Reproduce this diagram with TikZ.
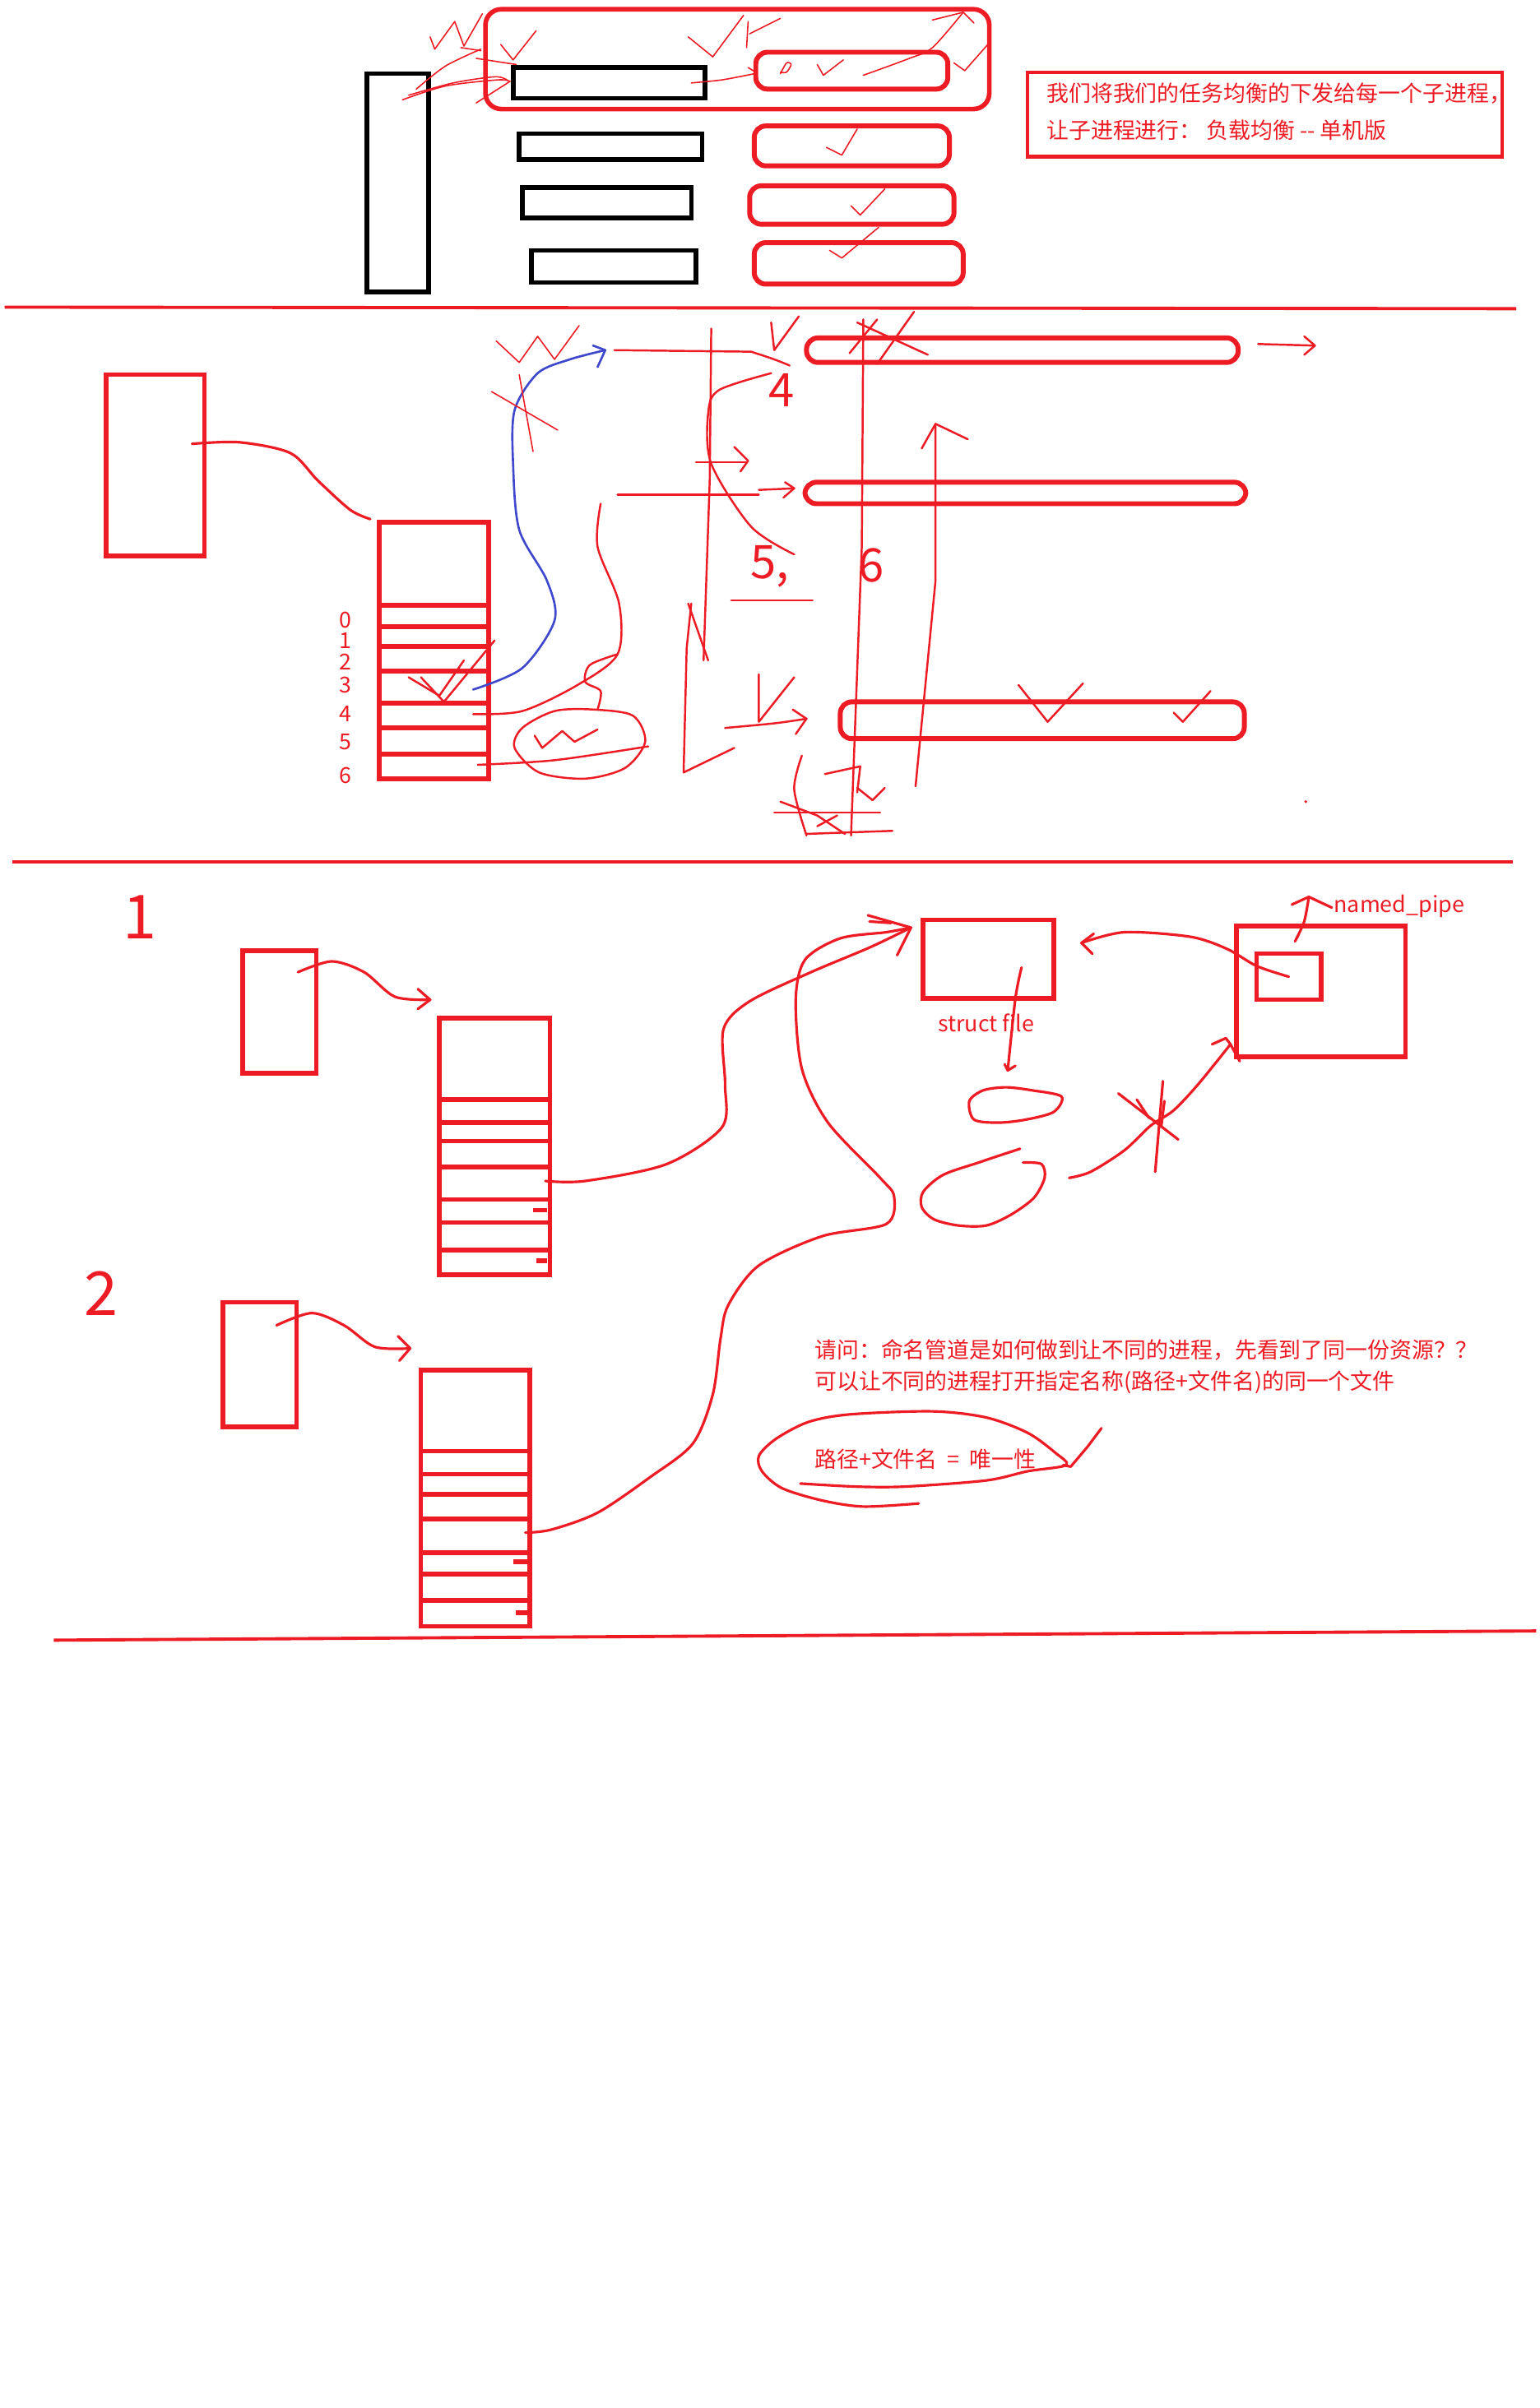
\documentclass[tikz,border=0pt]{standalone}
\usepackage{fontspec}
\usepackage{tikz}
\usetikzlibrary{fit, positioning, calc}
\newfontfamily\cjk{Noto Sans CJK SC}
\definecolor{penred}{HTML}{ED1C24}
\definecolor{penblue}{HTML}{3F48CC}
\tikzset{
	redbox/.style={draw=penred, line width=1.6pt, inner sep=0pt},
	blackbox/.style={draw=black, line width=1.6pt, inner sep=0pt},
	pill/.style={draw=penred, line width=1.7pt, inner sep=0pt, rounded corners=4pt},
	notebox/.style={draw=penred, line width=1.2pt, inner sep=0pt},
	note_text/.style={font=\cjk\fontsize{7.65}{9}\selectfont, text=penred, anchor=west, inner sep=0pt},
	digit/.style={font=\cjk\fontsize{7.6}{8}\selectfont, text=penred, inner sep=0pt},
	hand_digit/.style={font=\cjk\fontsize{16}{16}\selectfont, text=penred, inner sep=0pt},
	ink/.style={draw=penred, line width=0.9pt, line cap=round, line join=round},
	line_ink/.style={draw=penred, line width=0.7pt, line cap=round, line join=round},
	thin_ink/.style={draw=penred, line width=0.45pt, line cap=round, line join=round},
	blue_ink/.style={draw=penblue, line width=0.75pt, line cap=round, line join=round},
	sep_line/.style={draw=penred, line width=1.1pt}
}

\begin{document}
\begin{tikzpicture}[x=0.018683cm, y=-0.018683cm]
	\fill[white] (0,0) rectangle (1002,1568);
	\useasboundingbox (0,0) rectangle (1002,1568);

	% ---------- part 1: tasks handed out to children
	\node[blackbox, fit={(239,48) (279,190)}] (parent) {};
	\node[blackbox, fit={(334,44) (459,64)}] (task1) {};
	\node[blackbox, fit={(338,87) (457,104)}] (task2) {};
	\node[blackbox, fit={(340,122) (450,142)}] (task3) {};
	\node[blackbox, fit={(346,163) (453,184)}] (task4) {};
	\node[redbox, rounded corners=5.5pt, fit={(316,6) (644,71)}] (group1) {};
	\node[pill, fit={(492,34) (617,58)}] (child1) {};
	\node[pill, fit={(491,82) (618,108)}] (child2) {};
	\node[pill, fit={(488,121) (621,146)}] (child3) {};
	\node[pill, fit={(491,158) (627,185)}] (child4) {};

	\node[notebox, fit={(669,47) (978,102)}] (note) {};
	\node[note_text] (note1) at (681,61) {我们将我们的任务均衡的下发给每一个子进程，};
	\node[note_text] (note2) at (681,85) {让子进程进行： 负载均衡 -{}- 单机版};

	% scribbles
	\draw[thin_ink] (280,24) -- (283,32) -- (296,14) -- (302,30) -- (314,9);
	\draw[thin_ink] plot[smooth] coordinates {(262,65) (290,56) (324,52) (332,53)};
	\draw[thin_ink] plot[smooth] coordinates {(266,62) (295,54) (322,50) (330,52)};
	\draw[thin_ink] plot[smooth] coordinates {(271,58) (290,43) (313,32)};
	\draw[thin_ink] (300,31) -- (313,33);
	\draw[thin_ink] (310,38) -- (336,42);
	\draw[thin_ink] (326,29) -- (334,39) -- (349,20);
	\draw[thin_ink] (310,67) -- (332,53);
	\draw[thin_ink] (448,24) -- (464,37) -- (484,10);
	\draw[thin_ink] (487,14) -- (486,31);
	\draw[thin_ink] (488,22) -- (508,12);
	\coordinate (t1out) at (450,54);
	\draw[thin_ink] plot[smooth] coordinates {(t1out) (470,52) (491,48)};
	\draw[thin_ink] (487,44) -- (492,47) -- (491,52);
	\draw[thin_ink] plot[smooth] coordinates {(508,48) (512,41) (515,42) (512,47) (508,47)};
	\draw[thin_ink] (532,42) -- (536,49) -- (549,39);
	\draw[thin_ink] plot[smooth] coordinates {(562,49) (592,38) (607,31) (627,8)};
	\draw[thin_ink] (607,13) -- (627,8) -- (634,15);
	\draw[thin_ink] (621,41) -- (628,46) -- (643,29);
	\draw[thin_ink] (538,96) -- (548,101) -- (558,84);
	\draw[thin_ink] (554,134) -- (560,140) -- (576,123);
	\draw[thin_ink] (540,163) -- (548,168) -- (572,148);

	\draw[sep_line] (3,200) -- (987,201);

	% ---------- part 2: fd table and pipes
	\node[redbox, fit={(69,244) (133,362)}] (proc) {};
	\node[redbox, fit={(247,340) (318,507)}] (fdtab) {};
	\foreach \r in {394,408,421,437,458,474,491}
		\draw[redbox] (247,\r) -- (318,\r);
	\foreach \d/\yy in {0/404,1/417,2/431,3/446,4/465,5/483,6/505}
		\node[digit] (idx\d) at (225,\yy) {\d};

	\coordinate (procout) at (125,289);
	\coordinate (tabin) at (241,338);
	\draw[ink] plot[smooth] coordinates {(procout) (156,288) (189,295) (207,313) (228,332) (tabin)};

	\node[pill, fit={(525,220) (806,236)}] (worker1) {};
	\node[pill, fit={(524,314) (811,328)}] (worker2) {};
	\node[pill, fit={(547,457) (810,481)}] (worker3) {};

	% blue read end
	\coordinate (slot3) at (308,449);
	\coordinate (readend) at (394,228);
	\draw[blue_ink] plot[smooth] coordinates {(slot3) (340,435) (361,404) (356,378) (338,345) (334,302) (335,267) (350,243) (371,234) (readend)};
	\draw[blue_ink] (386,225) -- (readend) -- (389,239);
	\draw[thin_ink] (323,222) -- (338,236) -- (350,219) -- (361,234) -- (377,212);
	\draw[thin_ink] (320,255) -- (363,280);
	\draw[thin_ink] (338,244) -- (347,294);

	% lines towards the children
	\draw[line_ink] (400,228) -- (489,229);
	\draw[line_ink] plot[smooth] coordinates {(489,229) (504,234) (514,238)};
	\draw[line_ink] (463,214) -- (462,313) -- (458,430);
	\draw[line_ink] plot[smooth] coordinates {(502,243) (468,254) (461,269) (463,302) (489,343) (517,361)};
	\draw[line_ink] (453,301) -- (486,301);
	\draw[line_ink] (478,291) -- (487,300) -- (482,307);
	\draw[line_ink] (402,322) -- (494,322);
	\draw[line_ink] (494,319) -- (517,318);
	\draw[line_ink] (511,314) -- (517,318) -- (510,324);
	\draw[line_ink] (502,210) -- (504,228) -- (520,206);
	\draw[line_ink] (553,230) -- (571,208);
	\draw[line_ink] (558,210) -- (604,231);
	\draw[line_ink] (571,237) -- (595,203);
	\draw[line_ink] (819,224) -- (855,225);
	\draw[line_ink] (849,219) -- (856,225) -- (849,231);
	\node[hand_digit] (mark4) at (509,254) {4};
	\node[hand_digit] (mark5) at (501,369) {5,};
	\draw[line_ink] (476,391) -- (529,391);
	\node[hand_digit] (mark6) at (567,368) {6};

	\draw[line_ink] (562,208) -- (561,356) -- (554,544);
	\draw[line_ink] (596,512) -- (609,378) -- (609,276);
	\draw[line_ink] (600,292) -- (609,276) -- (630,286);

	\draw[line_ink] (450,393) -- (447,422) -- (445,503) -- (478,487);
	\draw[line_ink] (448,393) -- (461,430);

	% row 4 and row 6 to the write side
	\coordinate (slot4) at (308,465);
	\draw[line_ink] plot[smooth] coordinates {(slot4) (340,463) (376,446) (402,426) (403,393) (389,356) (391,328)};
	\coordinate (slot6) at (311,498);
	\draw[line_ink] plot[smooth] coordinates {(slot6) (361,495) (422,486)};
	\draw[line_ink] plot[smooth cycle] coordinates {(386,462) (412,466) (420,483) (407,500) (381,507) (351,503) (335,487) (340,474) (361,463)};
	\draw[line_ink] (348,479) -- (353,487) -- (366,476) -- (374,483) -- (389,475);
	\draw[line_ink] plot[smooth] coordinates {(402,426) (384,433) (381,444) (391,450) (389,462)};
	\draw[line_ink] (266,441) -- (286,453) -- (302,430);
	\draw[line_ink] (274,441) -- (289,457) -- (322,417);

	\draw[line_ink] (494,439) -- (494,470) -- (517,441);
	\draw[line_ink] plot[smooth] coordinates {(472,474) (504,471) (525,468)};
	\draw[line_ink] (516,462) -- (525,468) -- (518,478);
	\draw[line_ink] (663,446) -- (682,470) -- (705,445);
	\draw[line_ink] (764,464) -- (770,470) -- (788,450);

	\draw[line_ink] (537,504) -- (560,499) -- (558,516);
	\draw[line_ink] (558,513) -- (568,521) -- (576,513);
	\draw[line_ink] plot[smooth] coordinates {(522,492) (517,514) (525,544)};
	\draw[line_ink] (504,529) -- (573,529);
	\draw[line_ink] (508,522) -- (532,531) -- (550,543);
	\draw[line_ink] (532,538) -- (545,531);
	\draw[line_ink] (525,543) -- (581,541);
	\fill[penred] (850,522) circle (1);

	\draw[sep_line] (8,561) -- (985,561);

	% ---------- part 3: two processes open the same named pipe
	\node[hand_digit, font=\cjk\fontsize{21}{21}\selectfont] (num1) at (91,597) {1};
	\node[hand_digit, font=\cjk\fontsize{21}{21}\selectfont] (num2) at (66,842) {2};

	\node[redbox, fit={(158,619) (206,699)}] (procA) {};
	\node[redbox, fit={(286,663) (358,830)}] (tabA) {};
	\foreach \r in {716,731,743,760,781,796,814}
		\draw[redbox] (286,\r) -- (358,\r);
	\draw[redbox] (347,788) -- (356,788);
	\draw[redbox] (349,821) -- (356,821);

	\node[redbox, fit={(145,848) (193,929)}] (procB) {};
	\node[redbox, fit={(274,892) (345,1059)}] (tabB) {};
	\foreach \r in {945,960,973,989,1011,1025,1042}
		\draw[redbox] (274,\r) -- (345,\r);
	\draw[redbox] (334,1017) -- (344,1017);
	\draw[redbox] (336,1050) -- (344,1050);

	\coordinate (procAout) at (194,633);
	\coordinate (tabAin) at (280,651);
	\draw[ink] plot[smooth] coordinates {(procAout) (216,626) (237,633) (257,649) (tabAin)};
	\draw[ink] (272,644) -- (tabAin) -- (272,657);
	\coordinate (procBout) at (180,863);
	\coordinate (tabBin) at (267,878);
	\draw[ink] plot[smooth] coordinates {(procBout) (203,855) (224,863) (244,877) (tabBin)};
	\draw[ink] (259,870) -- (tabBin) -- (260,886);

	\node[redbox, fit={(601,599) (686,650)}] (sfile) {};
	\node[note_text, anchor=center] (sfilelabel) at (642,666) {struct file};
	\node[redbox, fit={(805,603) (915,688)}] (npipe) {};
	\node[redbox, fit={(818,621) (860,651)}] (npinode) {};
	\node[note_text] (nplabel) at (868,590) {named\_pipe};

	\coordinate (fileA) at (593,604);
	\coordinate (slotA) at (355,769);
	\draw[ink] plot[smooth] coordinates {(slotA) (381,769) (434,758) (470,734) (472,706) (471,670) (488,652) (528,633) (566,617) (fileA)};
	\coordinate (slotB) at (342,998);
	\draw[ink] plot[smooth] coordinates {(slotB) (359,996) (389,985) (423,962) (451,940) (464,908) (469,872) (474,850) (494,824) (535,805) (577,797) (582,779) (573,767) (539,731) (522,696) (518,651) (524,625) (547,611) (577,607) (fileA)};
	\draw[ink] (565,596) -- (fileA) -- (584,622);
	\draw[ink] (566,600) -- (580,601);

	\coordinate (fileback) at (704,614);
	\draw[ink] plot[smooth] coordinates {(npinode.center) (818,629) (799,618) (775,610) (732,607) (fileback)};
	\draw[ink] (712,608) -- (fileback) -- (711,621);
	\coordinate (nptip) at (852,584);
	\draw[ink] plot[smooth] coordinates {(843,613) (849,600) (nptip)};
	\draw[ink] (841,589) -- (nptip) -- (867,591);

	\coordinate (sfilein) at (665,630);
	\coordinate (sfileout) at (656,697);
	\draw[ink] plot[smooth] coordinates {(sfilein) (661,650) (sfileout)};
	\draw[ink] (654,693) -- (sfileout) -- (661,694);
	\draw[ink] plot[smooth cycle] coordinates {(631,717) (640,710) (655,708) (672,710) (691,714) (686,724) (668,729) (650,731) (634,729)};
	\draw[ink] plot[smooth] coordinates {(664,748) (637,757) (614,765) (601,776) (600,786) (608,794) (624,798) (642,798) (658,791) (673,780) (680,767) (678,758) (666,757)};

	\coordinate (npipein) at (801,680);
	\draw[ink] plot[smooth] coordinates {(696,767) (710,763) (732,749) (749,733) (764,723) (780,706) (npipein)};
	\draw[ink] (789,680) -- (798,676) -- (npipein) -- (807,691);
	\draw[ink] (728,712) -- (767,742);
	\draw[ink] (757,704) -- (752,763);
	\draw[ink] (740,716) -- (748,728);
	\draw[ink] (758,717) -- (756,733);

	\node[note_text] (ask1) at (530,879) {请问：命名管道是如何做到让不同的进程，先看到了同一份资源？？};
	\node[note_text] (ask2) at (530,900) {可以让不同的进程打开指定名称(路径+文件名)的同一个文件};
	\node[note_text] (uniq) at (530,950) {路径+文件名\hspace{0.45em}=\hspace{0.45em}唯一性};
	\draw[ink] plot[smooth] coordinates {(598,979) (562,981) (535,977) (509,969) (496,958) (494,948) (505,937) (526,926) (553,921) (607,919) (642,923) (669,933) (687,946) (694,954) (669,958) (642,964) (589,968) (557,968) (521,966)};
	\draw[ink] (692,954) -- (697,955) -- (708,942) -- (717,930);

	\draw[sep_line] (35,1068) -- (1000,1062);
\end{tikzpicture}
\end{document}
